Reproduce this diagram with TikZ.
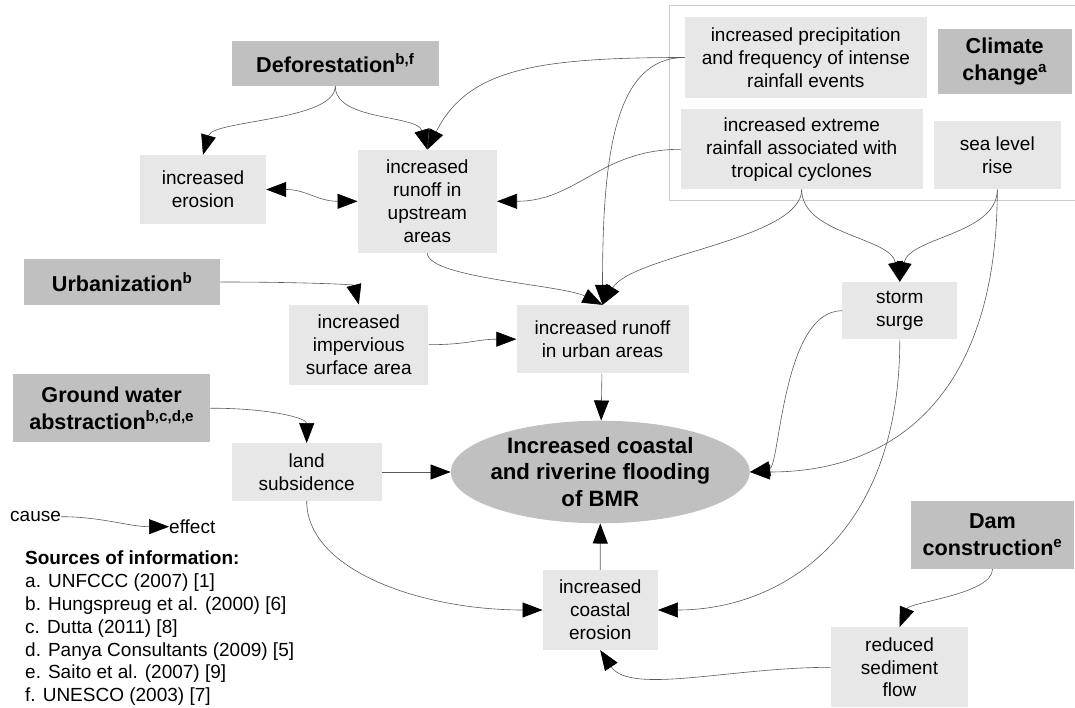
\documentclass[tikz,border=0pt]{standalone}
\usepackage{fontspec}
\setmainfont{Liberation Sans}
\usepackage{tikz}
\usetikzlibrary{arrows.meta,shapes.geometric}
\definecolor{headgray}{RGB}{192,192,192}
\definecolor{boxgray}{RGB}{231,231,231}
\definecolor{linegray}{RGB}{90,90,90}
\newcommand{\tiplength}{20pt}
\newcommand{\tipwidth}{15pt}
\newcommand{\bodysize}{\fontsize{19}{22.8}\selectfont}
\newcommand{\headsize}{\fontsize{21.6}{26.6}\selectfont\bfseries}
\tikzset{
  headbox/.style={rectangle, fill=headgray, inner sep=0, align=center, font=\headsize},
  itembox/.style={rectangle, fill=boxgray, inner sep=0, align=center, font=\bodysize},
  flood/.style={ellipse, fill=headgray, inner sep=0},
  link/.style={draw=linegray, line width=0.6pt, >={Triangle[length=\tiplength,width=\tipwidth,color=black]}, ->},
}

\begin{document}
\begin{tikzpicture}[x=1pt, y=-1pt]
\useasboundingbox (0,0) rectangle (1075,708);
%climate frame
\draw[black!20, line width=1pt] (669.3,6) rectangle (1090,201);
%causes
\node[headbox, minimum width=207, minimum height=45.3] (defo) at (335.3, 63.3) {Deforestation\textsuperscript{b,f}};
\node[headbox, minimum width=196, minimum height=45.4] (urbz) at (122.2, 282) {Urbanization\textsuperscript{b}};
\node[headbox, minimum width=197, minimum height=68.3] (gw) at (111.7, 408.2) {Ground water\\abstraction\textsuperscript{b,c,d,e}};
\node[headbox, minimum width=134, minimum height=65.6] (cc) at (1004.7, 61.5) {Climate\\change\textsuperscript{a}};
\node[headbox, minimum width=163, minimum height=68.3] (dam) at (992.5, 534.8) {Dam\\construction\textsuperscript{e}};
%effects
\node[itembox, minimum width=126, minimum height=69] (eros) at (203, 189.5) {increased\\erosion};
\node[itembox, minimum width=139, minimum height=103] (upst) at (427.3, 201.3) {increased\\runoff in\\upstream\\areas};
\node[itembox, minimum width=139, minimum height=80] (imp) at (358.8, 344.7) {increased\\impervious\\surface area};
\node[itembox, minimum width=172, minimum height=68.3] (urb) at (602.5, 339.2) {increased runoff\\in urban areas};
\node[itembox, minimum width=150, minimum height=57.4] (land) at (306.7, 472) {land\\subsidence};
\node[itembox, minimum width=242, minimum height=80.4] (prec) at (805.8, 57.5) {increased precipitation\\and frequency of intense\\rainfall events};
\node[itembox, minimum width=242, minimum height=80] (extr) at (801.7, 149.3) {increased extreme\\rainfall associated with\\tropical cyclones};
\node[itembox, minimum width=126.7, minimum height=68.7] (sea) at (997.3, 155) {sea level\\rise};
\node[itembox, minimum width=115, minimum height=57.3] (storm) at (899.8, 310.7) {storm\\surge};
\node[itembox, minimum width=115, minimum height=80] (coast) at (600.2, 610) {increased\\coastal\\erosion};
\node[itembox, minimum width=137.6, minimum height=80] (sed) at (899.5, 667.3) {reduced\\sediment\\flow};
%flooding
\node[flood, minimum width=299, minimum height=102.6] (flood) at (600.3, 472) {};
\node[align=center, inner sep=0, font=\fontsize{22.2}{26.7}\selectfont\bfseries] (floodtext) at (flood) {Increased coastal\\and riverine flooding\\of BMR};
%legend
\node[anchor=west, inner sep=0, font=\bodysize] (cause) at (10, 516.7) {cause};
\node[anchor=west, inner sep=0, font=\bodysize] (effect) at (169, 526.7) {effect};
\node[anchor=north west, inner sep=0, align=left, font=\bodysize] (src) at (25, 551) {\textbf{Sources of information:}\\a. UNFCCC (2007) [1]\\b. Hungspreug et al. (2000) [6]\\c. Dutta (2011) [8]\\d. Panya Consultants (2009) [5]\\e. Saito et al. (2007) [9]\\f. UNESCO (2003) [7]};
%links
\draw[link] (defo.south) .. controls +(0,35) and +(10,-35) .. (eros.north);
\draw[link] (defo.south) .. controls +(0,35) and +(-10,-35) .. (upst.north);
\draw[link, <->] (eros.east) .. controls +(40,0) and +(-40,0) .. (upst.west);
\draw[link] (prec.west) .. controls +(-150,0) and +(40,-80) .. (upst.north);
\draw[link] (prec.west) .. controls +(-70,0) and +(0,-150) .. (urb.north);
\draw[link] (extr.west) .. controls +(-80,0) and +(80,0) .. (upst.east);
\draw[link] (extr.south) .. controls +(0,50) and +(30,-50) .. (urb.north);
\draw[link] (extr.south) .. controls +(0,45) and +(-10,-45) .. (storm.north);
\draw[link] (sea.south) .. controls +(0,45) and +(10,-45) .. (storm.north);
\draw[link] (sea.south) .. controls +(0,200) and +(150,0) .. (flood.east);
\draw[link] (upst.south) .. controls +(0,25) and +(-40,-20) .. (urb.north);
\draw[link] (urbz.east) .. controls +(80,0) and +(-5,-20) .. (imp.north);
\draw[link] (imp.east) .. controls +(40,0) and +(-40,0) .. (urb.west);
\draw[link] (urb) -- (flood);
\draw[link] (gw.east) .. controls +(60,0) and +(0,-25) .. (land.north);
\draw[link] (land) -- (flood);
\draw[link] (land.south) .. controls +(0,70) and +(-120,0) .. (coast.west);
\draw[link] (storm.west) .. controls +(-60,0) and +(30,-5) .. (flood.east);
\draw[link] (storm.south) .. controls +(0,200) and +(120,0) .. (coast.east);
\draw[link] (coast) -- (flood);
\draw[link] (dam.south) .. controls +(0,25) and +(10,-25) .. (sed.north);
\draw[link] (sed.west) .. controls +(-100,0) and +(30,45) .. (coast.south);
\draw[link] (cause.east) .. controls +(40,0) and +(-40,0) .. (effect.west);
\end{tikzpicture}
\end{document}
